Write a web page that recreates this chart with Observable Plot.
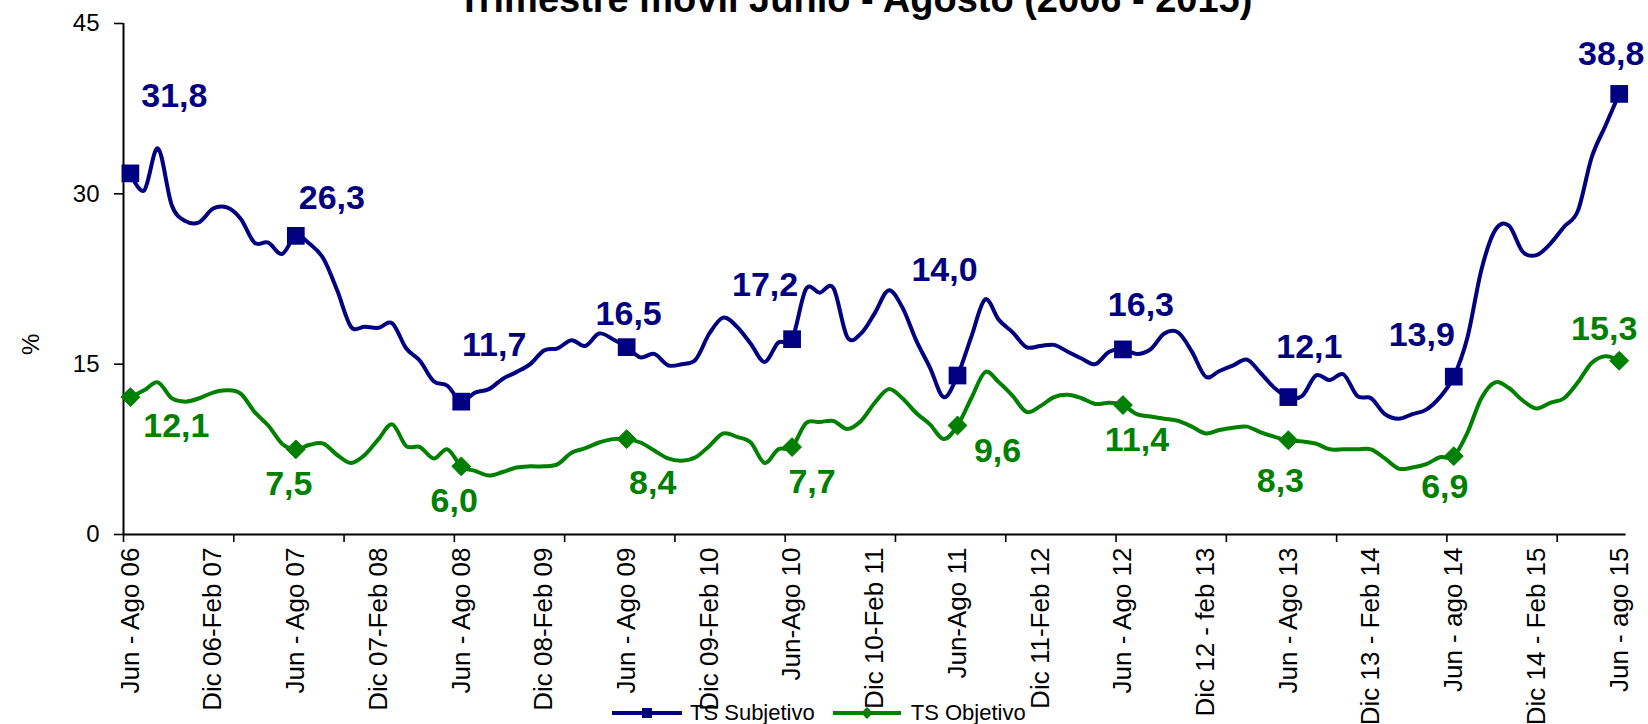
<!DOCTYPE html>
<html><head><meta charset="utf-8">
<script src="https://cdn.jsdelivr.net/npm/d3@7"></script>
<script src="https://cdn.jsdelivr.net/npm/@observablehq/plot@0.6"></script>
<style>
html,body{margin:0;padding:0;background:#fff;overflow:hidden;}
#wrap{position:relative;width:1648px;height:724px;font-family:"Liberation Sans",Arial,sans-serif;}
#title{position:absolute;top:-20px;left:855px;transform:translateX(-50%);white-space:nowrap;font-size:38px;font-weight:bold;line-height:38px;color:#000;}
#legend{position:absolute;top:701px;left:612px;height:24px;display:flex;align-items:center;font-size:22px;color:#000;white-space:nowrap;}
#legend svg{display:block;}
</style></head>
<body><div id="wrap"><div id="chart"></div><div id="title">Trimestre móvil Junio - Agosto (2006 - 2015)</div><div id="legend"></div></div>
<script>
// TS Subjetivo, rolling quarters Jun-Ago 06 ... Jun-ago 15 (109 values)
const subjetivo = [
 31.8, 30.3, 34.0, 29.0, 27.6, 27.5, 28.7, 28.8, 27.8, 25.7, 25.7, 24.7,
 26.3, 25.6, 24.3, 21.5, 18.3, 18.3, 18.2, 18.6, 16.4, 15.3, 13.5, 13.1,
 11.7, 12.5, 12.8, 13.7, 14.3, 15.0, 16.2, 16.4, 17.1, 16.6, 17.7, 17.2,
 16.5, 15.6, 15.9, 14.9, 15.0, 15.4, 17.7, 19.1, 18.3, 16.8, 15.2, 16.9,
 17.2, 21.6, 21.3, 21.7, 17.4, 17.7, 19.5, 21.5, 20.0, 17.1, 14.7, 12.1,
 14.0, 17.4, 20.7, 18.9, 17.8, 16.5, 16.6, 16.7, 16.1, 15.5, 15.0, 16.1,
 16.3, 15.9, 16.3, 17.7, 17.8, 16.1, 13.9, 14.4, 14.9, 15.4, 14.2, 12.9,
 12.1, 12.2, 14.0, 13.6, 14.1, 12.2, 12.0, 10.6, 10.2, 10.6, 11.0, 12.1,
 13.9, 17.4, 23.3, 26.8, 27.2, 24.9, 24.6, 25.6, 27.1, 28.5, 33.2, 36.0,
 38.8
];
// TS Objetivo (109 values)
const objetivo = [
 12.1, 12.7, 13.4, 12.0, 11.7, 12.0, 12.5, 12.7, 12.4, 10.8, 9.6, 8.0,
 7.5, 7.9, 8.0, 7.0, 6.3, 7.0, 8.4, 9.7, 7.8, 7.7, 6.7, 7.5,
 6.0, 5.6, 5.2, 5.5, 5.9, 6.0, 6.0, 6.2, 7.2, 7.6, 8.1, 8.4,
 8.4, 8.1, 7.4, 6.7, 6.5, 6.8, 7.8, 8.9, 8.6, 8.1, 6.3, 7.5,
 7.7, 9.8, 9.9, 10.0, 9.3, 10.0, 11.6, 12.8, 12.0, 10.7, 9.7, 8.4,
 9.6, 12.0, 14.3, 13.4, 12.2, 10.8, 11.3, 12.1, 12.3, 12.0, 11.5, 11.6,
 11.4, 10.6, 10.4, 10.2, 10.0, 9.5, 8.9, 9.2, 9.4, 9.5, 9.0, 8.6,
 8.3, 8.2, 8.0, 7.5, 7.5, 7.5, 7.5, 6.7, 5.8, 5.9, 6.2, 6.8,
 6.9, 9.0, 12.0, 13.4, 12.9, 11.8, 11.1, 11.6, 12.0, 13.4, 15.1, 15.7,
 15.3
];
// Category axis labels (every 6 rolling quarters) and their category index
const tickLabels = [
 "Jun - Ago 06", "Dic 06-Feb 07", "Jun - Ago 07", "Dic 07-Feb 08", "Jun - Ago 08",
 "Dic 08-Feb 09", "Jun - Ago 09", "Dic 09-Feb 10", "Jun-Ago 10", "Dic 10-Feb 11",
 "Jun-Ago 11", "Dic 11-Feb 12", "Jun - Ago 12", "Dic 12 - feb 13", "Jun - Ago 13",
 "Dic 13 - Feb 14", "Jun - ago 14", "Dic 14 - Feb 15", "Jun - ago 15"
];
const tickLabelIndex = [0, 6, 12, 18, 24, 30, 36, 42, 48, 54, 60, 66, 72, 78, 84, 90, 96, 102, 108];
// Tick marks on the category axis (every 8 categories, between categories)
const tickMarkIndex = [-0.5, 7.5, 15.5, 23.5, 31.5, 39.5, 47.5, 55.5, 63.5, 71.5, 79.5, 87.5, 95.5, 103.5];
const yTicks = [0, 15, 30, 45];
// Labelled points (Jun-Ago of each year)
const labelledIndex = [0, 12, 24, 36, 48, 60, 72, 84, 96, 108];
const seriesNames = ["TS Subjetivo", "TS Objetivo"];

// label placement (layout only)
const subjOffsets = [[44,-77],[36,-38],[33,-57],[2,-33],[-27,-54],[-13,-105],[18,-44],[21,-50],[-32,-42],[-8,-40]];
const objOffsets  = [[46,29],[-7,35],[-7,35],[26,44],[20,35],[40,26],[14,35],[-8,41],[-9,31],[-15,-32]];

const NAVY = "#000080", GREEN = "#008000";
const fmt = v => d3.format(".1f")(v).replace(".", ",");

const subjData = subjetivo.map((v, i) => ({i, v}));
const objData = objetivo.map((v, i) => ({i, v}));
const subjPts = labelledIndex.map(i => ({i, v: subjetivo[i]}));
const objPts = labelledIndex.map(i => ({i, v: objetivo[i]}));
const labelMap = new Map(tickLabelIndex.map((k, j) => [k, tickLabels[j]]));

const labelMarks = [];
subjPts.forEach((d, j) => labelMarks.push(Plot.text([d], {x: "i", y: "v", text: d => fmt(d.v), dx: subjOffsets[j][0], dy: subjOffsets[j][1], fill: NAVY, fontSize: 34, fontWeight: "bold"})));
objPts.forEach((d, j) => labelMarks.push(Plot.text([d], {x: "i", y: "v", text: d => fmt(d.v), dx: objOffsets[j][0], dy: objOffsets[j][1], fill: GREEN, fontSize: 34, fontWeight: "bold"})));

const chart = Plot.plot({
  width: 1648, height: 724,
  marginLeft: 123, marginRight: 22.4, marginTop: 23, marginBottom: 190,
  style: {fontFamily: "'Liberation Sans', Arial, sans-serif", color: "#000", background: "transparent", overflow: "visible"},
  x: {type: "linear", domain: [-0.5, 108.5]},
  y: {domain: [0, 45]},
  marks: [
    Plot.axisY({ticks: yTicks, tickSize: 9, tickPadding: 15, fontSize: 24, label: null, stroke: "#000", strokeWidth: 1.6}),
    Plot.axisX({ticks: tickMarkIndex, tickSize: 8, tickFormat: () => "", label: null, stroke: "#000", strokeWidth: 1.6}),
    Plot.axisX({ticks: tickLabelIndex, tickSize: 0, tickPadding: 13, tickRotate: -90, tickFormat: d => labelMap.get(d), fontSize: 26, label: null}),
    Plot.ruleY([0], {stroke: "#000", strokeWidth: 2}),
    Plot.ruleX([-0.5], {stroke: "#000", strokeWidth: 2}),
    Plot.text(["%"], {frameAnchor: "left", dx: -92, dy: 76, rotate: -90, fontSize: 24, fill: "#000"}),
    Plot.line(objData, {x: "i", y: "v", stroke: GREEN, strokeWidth: 4, curve: "cardinal"}),
    Plot.line(subjData, {x: "i", y: "v", stroke: NAVY, strokeWidth: 4, curve: "cardinal"}),
    Plot.dot(objPts, {x: "i", y: "v", symbol: "diamond2", r: 8.5, fill: GREEN, stroke: GREEN, strokeWidth: 1}),
    Plot.dot(subjPts, {x: "i", y: "v", symbol: "square", r: 10, fill: NAVY}),
    ...labelMarks
  ]
});
document.getElementById("chart").appendChild(chart);

const legend = document.getElementById("legend");
legend.innerHTML =
  `<svg width="70" height="16"><line x1="0" y1="8" x2="70" y2="8" stroke="${NAVY}" stroke-width="4"/><rect x="30" y="3" width="10" height="10" fill="${NAVY}"/></svg>` +
  `<span style="margin-left:8px">${seriesNames[0]}</span>` +
  `<svg width="68" height="16" style="margin-left:18px"><line x1="0" y1="8" x2="68" y2="8" stroke="${GREEN}" stroke-width="4"/><path d="M34,2 L40,8 L34,14 L28,8Z" fill="${GREEN}"/></svg>` +
  `<span style="margin-left:10px">${seriesNames[1]}</span>`;
</script>
</body></html>
